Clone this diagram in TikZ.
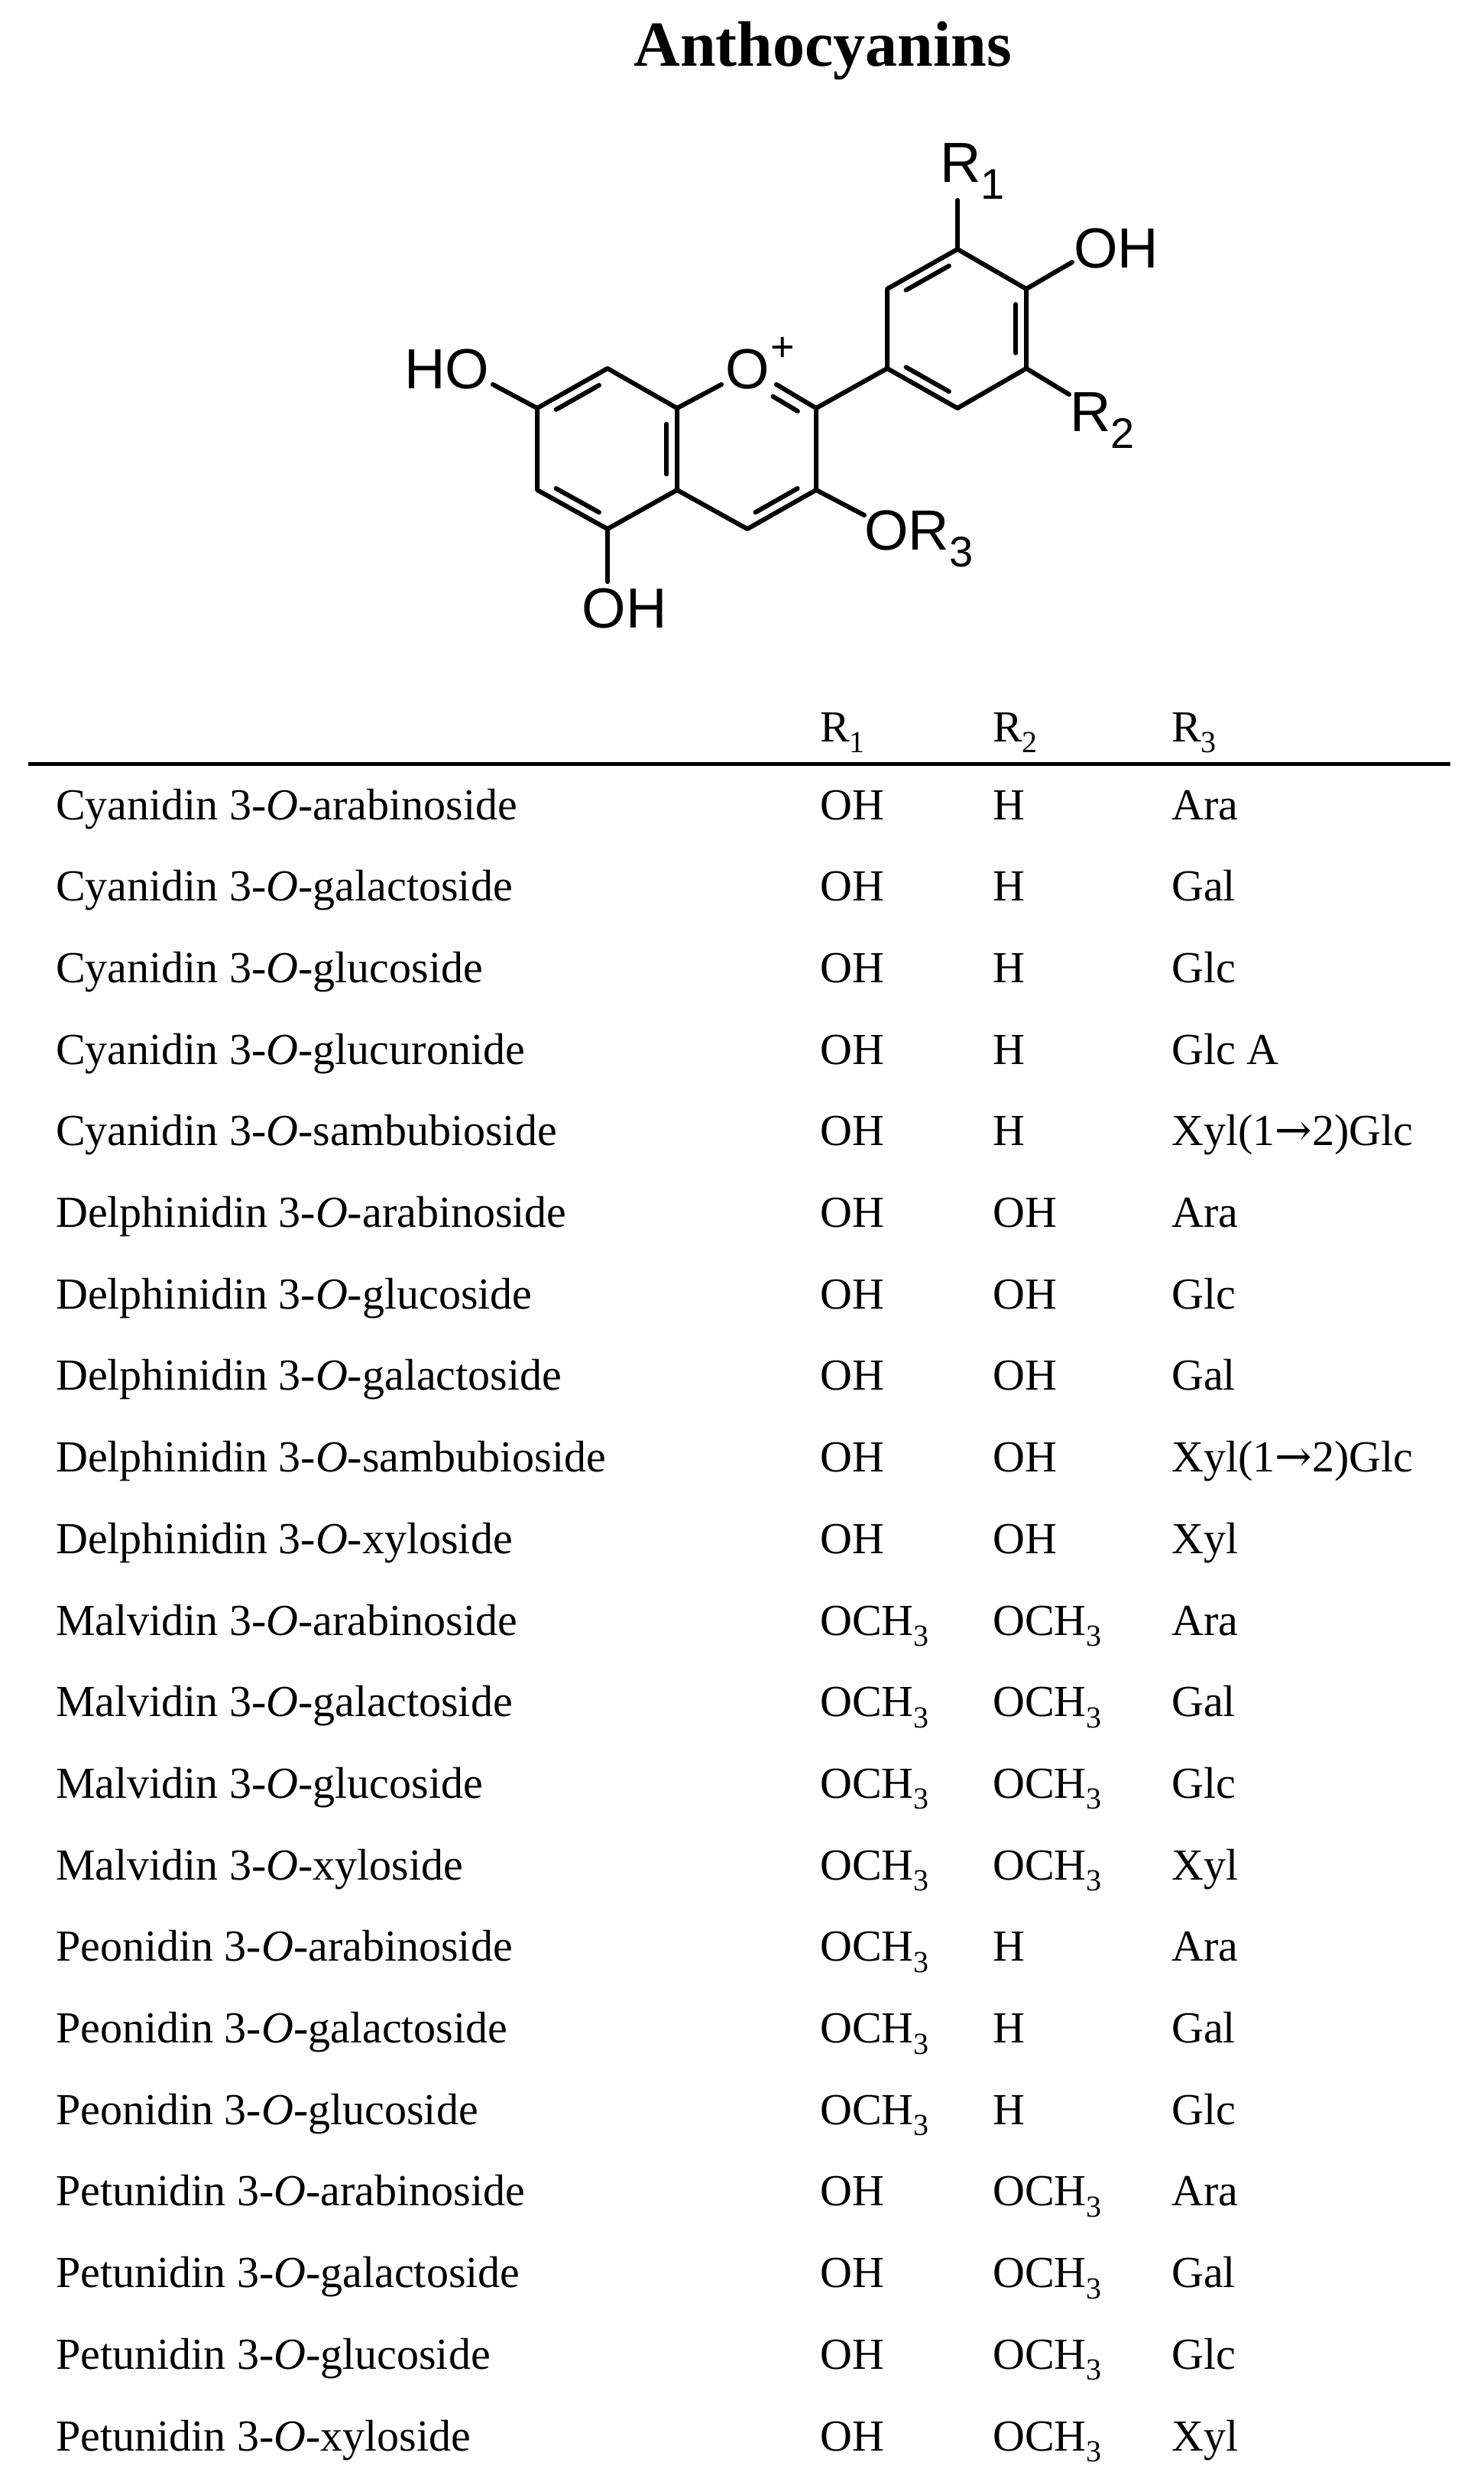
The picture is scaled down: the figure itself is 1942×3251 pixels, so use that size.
\documentclass[tikz,border=0pt]{standalone}
\usepackage{fontspec}
\setmainfont{Liberation Serif}
\newfontfamily\chemf{Liberation Sans}
\newfontfamily\arrf{DejaVu Serif}
\usetikzlibrary{calc}
\newcommand{\chm}[1]{{\chemf\fontsize{74}{78}\selectfont #1}}
\newcommand{\csub}[1]{\raisebox{-0.3em}{\fontsize{56}{56}\selectfont #1}}
\newcommand{\tsub}[1]{\raisebox{-0.25em}{\fontsize{40}{40}\selectfont #1}}
\begin{document}
\begin{tikzpicture}[x=1pt,y=-1pt,
  bond/.style={line width=6pt,line cap=round,line join=round},
  lab/.style={inner sep=0pt},
  cell/.style={anchor=base west,inner sep=0pt,font=\fontsize{58}{60}\selectfont}]
\useasboundingbox (0,0) rectangle (1942,3251);
\node[lab,font=\bfseries\fontsize{84}{90}\selectfont] (title) at (1077,66) {Anthocyanins};
% atoms
\coordinate (C7) at (703,534); \coordinate (C8) at (795,482); \coordinate (C8a) at (886,534);
\coordinate (C2) at (1068,534); \coordinate (C3) at (1068,641); \coordinate (C4) at (978,692);
\coordinate (C4a) at (886,641); \coordinate (C5) at (795,692); \coordinate (C6) at (703,641);
\coordinate (B1) at (1161,482); \coordinate (B2) at (1161,378); \coordinate (B3) at (1253,326);
\coordinate (B4) at (1343,378); \coordinate (B5) at (1343,482); \coordinate (B6) at (1253,534);
\coordinate (cA) at (794.5,587.5); \coordinate (cC) at (977,587.5); \coordinate (cB) at (1252,430);
\coordinate (Oa) at (944,503); \coordinate (Ob) at (1016,503);
\coordinate (HOe) at (645,503); \coordinate (OH5e) at (795,761); \coordinate (OR3e) at (1131,674);
\coordinate (R1e) at (1253,262); \coordinate (OHe) at (1403,343); \coordinate (R2e) at (1399,516);
% labels
\node[lab] (O1) at (978,483) {\chm{O}};
\node[lab] (plus) at (1024,457) {\chemf\fontsize{54}{54}\selectfont +};
\node[lab] (HO) at (585,483) {\chm{HO}};
\node[lab] (OH5) at (817,796) {\chm{OH}};
\node[lab,anchor=west] (OR3) at (1131,705) {\chm{OR\csub{3}}};
\node[lab,anchor=west] (R1) at (1230,224) {\chm{R\csub{1}}};
\node[lab,anchor=west] (OH4) at (1405,325) {\chm{OH}};
\node[lab,anchor=west] (R2) at (1400,550) {\chm{R\csub{2}}};
% bonds
\draw[bond] (HOe) -- (C7) -- (C8) -- (C8a) -- (C4a) -- (C5) -- (C6) -- (C7);
\draw[bond] (C8a) -- (Oa); \draw[bond] (Ob) -- (C2) -- (C3) -- (C4) -- (C4a);
\draw[bond] (C5) -- (OH5e); \draw[bond] (C3) -- (OR3e);
\draw[bond] (C2) -- (B1) -- (B2) -- (B3) -- (B4) -- (B5) -- (B6) -- (B1);
\draw[bond] (B3) -- (R1e); \draw[bond] (B4) -- (OHe); \draw[bond] (B5) -- (R2e);
% inner double bond lines
\foreach \a/\b/\c in {C7/C8/cA, C5/C6/cA, C8a/C4a/cA, C3/C4/cC, B2/B3/cB, B4/B5/cB, B1/B6/cB}
  \draw[bond] ($($(\a)!0.14!(\b)$)!0.15!(\c)$) -- ($($(\a)!0.86!(\b)$)!0.15!(\c)$);
\draw[bond] ($($(Ob)!0.05!(C2)$)!0.17!(cC)$) -- ($($(Ob)!0.8!(C2)$)!0.17!(cC)$);
% table
\draw[line width=5pt] (37,999) -- (1898,999);
\node[cell] (h1) at (1073,970) {R\tsub{1}};
\node[cell] (h2) at (1299,970) {R\tsub{2}};
\node[cell] (h3) at (1533,970) {R\tsub{3}};
\def\OC{OCH\tsub{3}}
\def\XG{Xyl(1{\arrf →}2)Glc}
\foreach \n/\a/\b/\c [count=\i from 0] in {
 Cyanidin 3-\textit{O}-arabinoside/OH/H/Ara,
 Cyanidin 3-\textit{O}-galactoside/OH/H/Gal,
 Cyanidin 3-\textit{O}-glucoside/OH/H/Glc,
 Cyanidin 3-\textit{O}-glucuronide/OH/H/Glc A,
 Cyanidin 3-\textit{O}-sambubioside/OH/H/\XG,
 Delphinidin 3-\textit{O}-arabinoside/OH/OH/Ara,
 Delphinidin 3-\textit{O}-glucoside/OH/OH/Glc,
 Delphinidin 3-\textit{O}-galactoside/OH/OH/Gal,
 Delphinidin 3-\textit{O}-sambubioside/OH/OH/\XG,
 Delphinidin 3-\textit{O}-xyloside/OH/OH/Xyl,
 Malvidin 3-\textit{O}-arabinoside/\OC/\OC/Ara,
 Malvidin 3-\textit{O}-galactoside/\OC/\OC/Gal,
 Malvidin 3-\textit{O}-glucoside/\OC/\OC/Glc,
 Malvidin 3-\textit{O}-xyloside/\OC/\OC/Xyl,
 Peonidin 3-\textit{O}-arabinoside/\OC/H/Ara,
 Peonidin 3-\textit{O}-galactoside/\OC/H/Gal,
 Peonidin 3-\textit{O}-glucoside/\OC/H/Glc,
 Petunidin 3-\textit{O}-arabinoside/OH/\OC/Ara,
 Petunidin 3-\textit{O}-galactoside/OH/\OC/Gal,
 Petunidin 3-\textit{O}-glucoside/OH/\OC/Glc,
 Petunidin 3-\textit{O}-xyloside/OH/\OC/Xyl}
{
 \node[cell] (n\i) at (73,1072+106.7*\i) {\n};
 \node[cell] (a\i) at (1073,1072+106.7*\i) {\a};
 \node[cell] (b\i) at (1299,1072+106.7*\i) {\b};
 \node[cell] (c\i) at (1533,1072+106.7*\i) {\c};
}
\end{tikzpicture}
\end{document}
